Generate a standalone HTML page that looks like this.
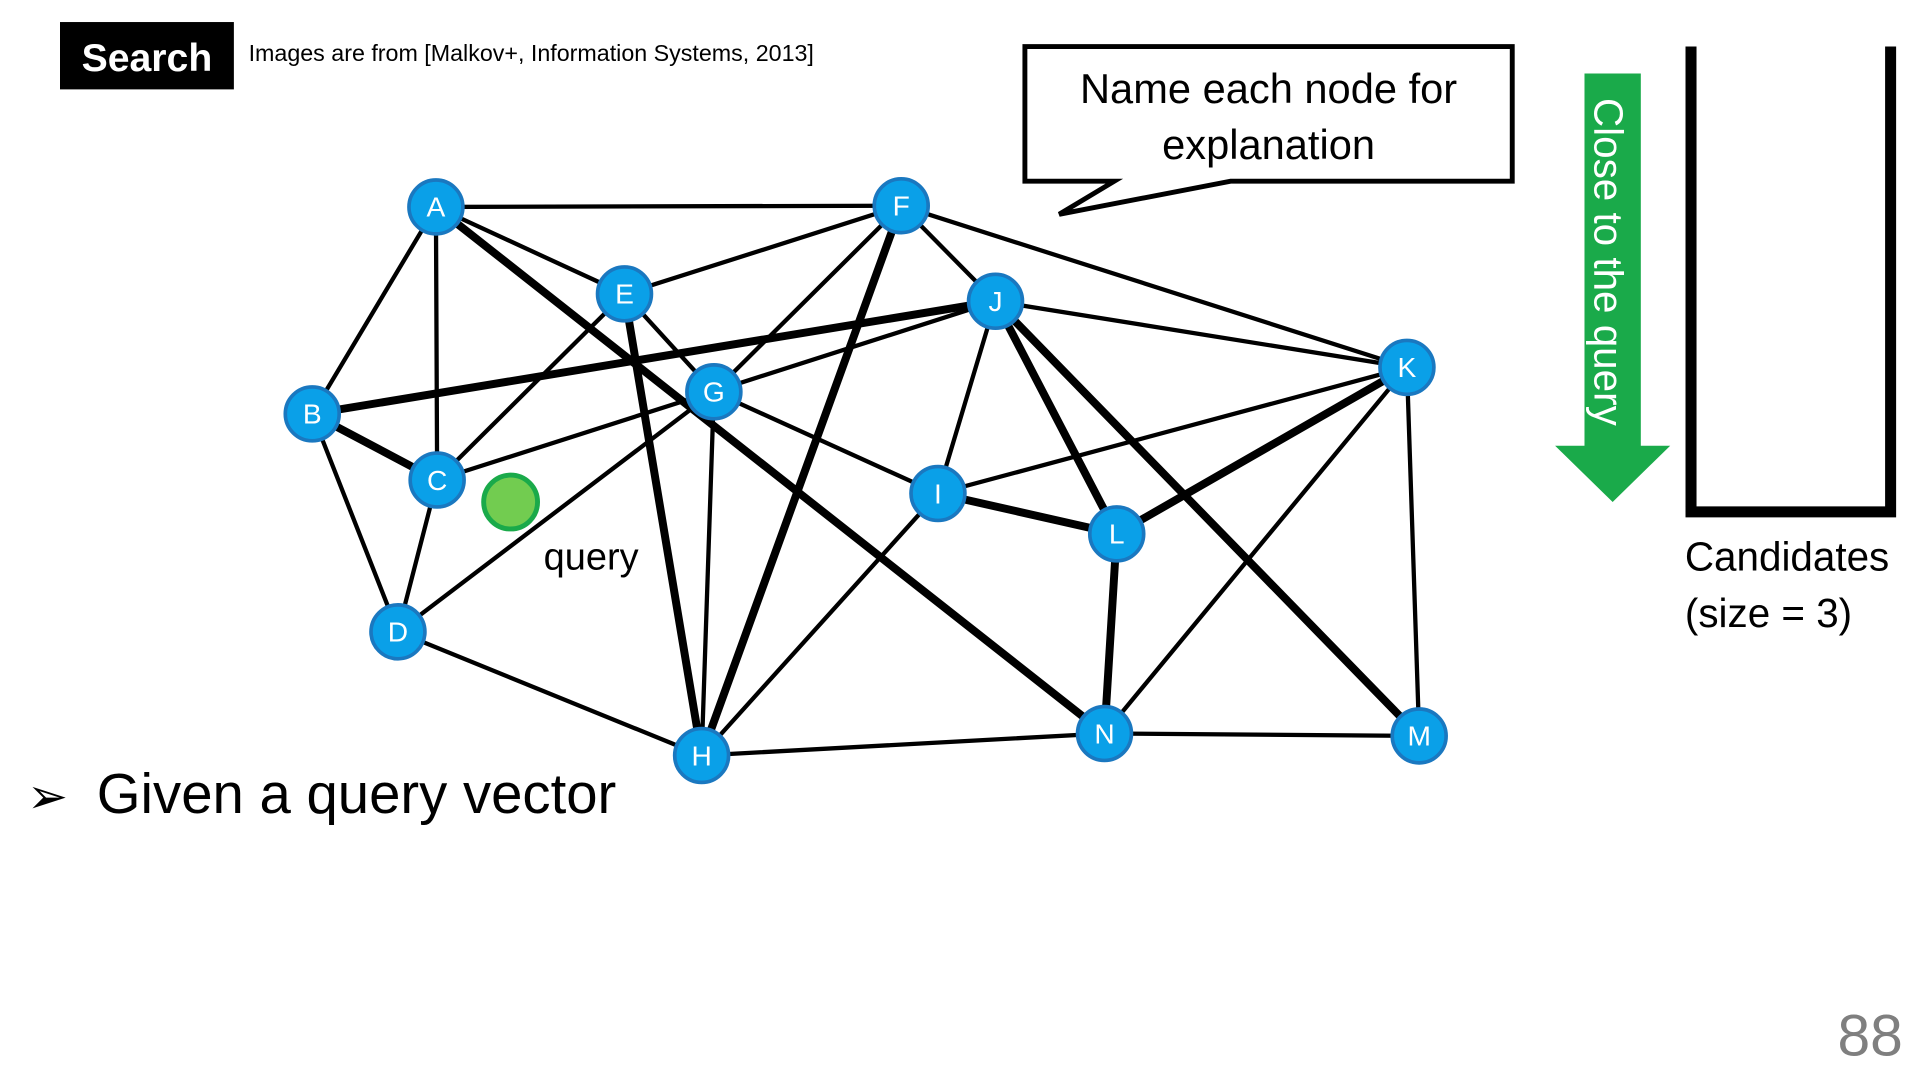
<!DOCTYPE html>
<html><head><meta charset="utf-8"><style>
html,body{margin:0;padding:0;background:#fff;width:1920px;height:1080px;overflow:hidden}
svg{display:block}
text{font-family:"Liberation Sans",sans-serif}
</style></head><body>
<svg width="1920" height="1080" viewBox="0 0 1568 882" xmlns="http://www.w3.org/2000/svg">
<rect x="49" y="18" width="142" height="55" fill="#000"/>
<text x="120" y="58" font-size="32" font-weight="bold" fill="#fff" text-anchor="middle">Search</text>
<text x="203" y="50" font-size="19" fill="#000">Images are from [Malkov+, Information Systems, 2013]</text>
<path d="M837,38 H1235 V148 H1005 L865,175 L910,148 H837 Z" fill="#fff" stroke="#000" stroke-width="4"/>
<text x="1036" y="84" font-size="34" text-anchor="middle">Name each node for</text>
<text x="1036" y="130" font-size="34" text-anchor="middle">explanation</text>
<path d="M1294,60 H1340 V364 H1364 L1317,410 L1270,364 H1294 Z" fill="#1aaa4a"/>
<text transform="translate(1302,80) rotate(90)" font-size="33" fill="#fff">Close to the query</text>
<path d="M1381,38 V418 H1544 V38" fill="none" stroke="#000" stroke-width="9"/>
<text x="1376" y="466" font-size="33">Candidates</text>
<text x="1376" y="512" font-size="33">(size = 3)</text>
<text x="1554" y="862" font-size="48" fill="#7f7f7f" text-anchor="end">88</text>
<text x="22" y="664" font-size="40">➢</text>
<text x="79" y="664" font-size="46">Given a query vector</text>
<text x="444" y="465" font-size="31">query</text>
<g stroke="#000" stroke-linecap="round">
<g stroke-width="3.5">
<line x1="356" y1="169" x2="736" y2="168"/><line x1="356" y1="169" x2="255" y2="338"/>
<line x1="356" y1="169" x2="357" y2="392"/><line x1="356" y1="169" x2="510" y2="240"/>
<line x1="510" y1="240" x2="736" y2="168"/><line x1="510" y1="240" x2="357" y2="392"/>
<line x1="510" y1="240" x2="583" y2="320"/><line x1="736" y1="168" x2="583" y2="320"/>
<line x1="736" y1="168" x2="813" y2="246"/><line x1="736" y1="168" x2="1149" y2="300"/>
<line x1="813" y1="246" x2="357" y2="392"/><line x1="813" y1="246" x2="1149" y2="300"/>
<line x1="813" y1="246" x2="766" y2="403"/><line x1="1149" y1="300" x2="766" y2="403"/>
<line x1="1149" y1="300" x2="902" y2="599"/><line x1="1149" y1="300" x2="1159" y2="601"/>
<line x1="255" y1="338" x2="325" y2="516"/><line x1="357" y1="392" x2="325" y2="516"/>
<line x1="325" y1="516" x2="583" y2="320"/><line x1="325" y1="516" x2="573" y2="617"/>
<line x1="583" y1="320" x2="573" y2="617"/><line x1="583" y1="320" x2="766" y2="403"/>
<line x1="573" y1="617" x2="766" y2="403"/><line x1="573" y1="617" x2="902" y2="599"/>
<line x1="902" y1="599" x2="1159" y2="601"/>
</g>
<g stroke-width="6.5">
<line x1="356" y1="169" x2="902" y2="599"/><line x1="510" y1="240" x2="573" y2="617"/>
<line x1="736" y1="168" x2="573" y2="617"/><line x1="813" y1="246" x2="255" y2="338"/>
<line x1="813" y1="246" x2="912" y2="436"/><line x1="813" y1="246" x2="1159" y2="601"/>
<line x1="1149" y1="300" x2="912" y2="436"/><line x1="255" y1="338" x2="357" y2="392"/>
<line x1="766" y1="403" x2="912" y2="436"/><line x1="912" y1="436" x2="902" y2="599"/>
</g>
</g>
<circle cx="417" cy="410" r="22" fill="#72cc50" stroke="#1aaa4a" stroke-width="4"/>
<g fill="#0aa0e8" stroke="#1a78c0" stroke-width="3">
<circle cx="356" cy="169" r="22"/><circle cx="736" cy="168" r="22"/><circle cx="510" cy="240" r="22"/>
<circle cx="813" cy="246" r="22"/><circle cx="1149" cy="300" r="22"/><circle cx="255" cy="338" r="22"/>
<circle cx="583" cy="320" r="22"/><circle cx="357" cy="392" r="22"/><circle cx="766" cy="403" r="22"/>
<circle cx="912" cy="436" r="22"/><circle cx="325" cy="516" r="22"/><circle cx="573" cy="617" r="22"/>
<circle cx="902" cy="599" r="22"/><circle cx="1159" cy="601" r="22"/>
</g>
<g fill="#fff" font-size="23" text-anchor="middle">
<text x="356" y="177">A</text><text x="736" y="176">F</text><text x="510" y="248">E</text>
<text x="813" y="254">J</text><text x="1149" y="308">K</text><text x="255" y="346">B</text>
<text x="583" y="328">G</text><text x="357" y="400">C</text><text x="766" y="411">I</text>
<text x="912" y="444">L</text><text x="325" y="524">D</text><text x="573" y="625">H</text>
<text x="902" y="607">N</text><text x="1159" y="609">M</text>
</g>
</svg>
</body></html>
